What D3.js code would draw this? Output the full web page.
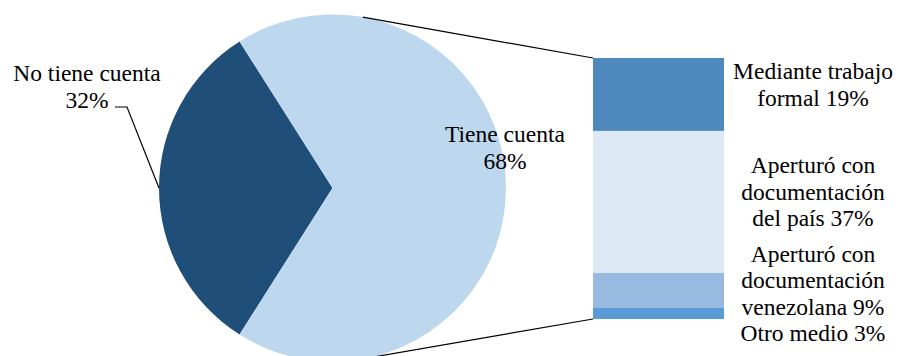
<!DOCTYPE html>
<html>
<head>
<meta charset="utf-8">
<script src="https://cdn.jsdelivr.net/npm/d3@7"></script>
<style>
body { margin: 0; background: #fff; }
</style>
</head>
<body>
<div id="chart"></div>
<script>
// pie: account / no account
var pieLabels = ["No tiene cuenta", "Tiene cuenta"];
var pieValues = [32, 68];
var pieColors = ["#1F4E79", "#BDD7EE"];

// bar: how the account was opened (share of total)
var barLabels = [
	["Mediante trabajo", "formal"],
	["Aperturó con", "documentación", "del país"],
	["Aperturó con", "documentación", "venezolana"],
	["Otro medio"]
];
var barValues = [19, 37, 9, 3];
var barColors = ["#4E88BD", "#DDEAF6", "#98BAE0", "#5B9BD5"];

var width = 901, height = 356;
var cx = 332.5, cy = 188, radius = 173.5;
var barX = 593, barW = 131;
var lineH = 26.5;

var svg = d3.select("#chart").append("svg")
	.attr("width", width)
	.attr("height", height)
	.attr("font-family", "'Liberation Serif', 'Times New Roman', 'DejaVu Serif', serif")
	.attr("font-size", 23.5);

// dark slice is centered on the left (270 deg)
var startAngle = 1.5 * Math.PI - (pieValues[0] / d3.sum(pieValues)) * Math.PI;
var pie = d3.pie().sort(null).value(function (d) { return d; })
	.startAngle(startAngle).endAngle(startAngle + 2 * Math.PI);
var arc = d3.arc().innerRadius(0).outerRadius(radius);
var arcs = pie(pieValues);

var pieG = svg.append("g").attr("transform", "translate(" + cx + "," + cy + ")");
pieG.selectAll("path")
	.data(arcs)
	.enter()
	.append("path")
	.attr("d", arc)
	.style("fill", function (d, i) { return pieColors[i]; });

// bar
var y = d3.scaleLinear().domain([0, d3.sum(barValues)]).range([58, 319]);
var cum = 0;
var barData = barValues.map(function (v, i) {
	var d = { value: v, y0: cum, y1: cum + v, label: barLabels[i], color: barColors[i] };
	cum += v;
	return d;
});

svg.selectAll("rect.seg")
	.data(barData)
	.enter()
	.append("rect")
	.attr("class", "seg")
	.attr("x", barX)
	.attr("width", barW)
	.attr("y", function (d) { return y(d.y0); })
	.attr("height", function (d) { return y(d.y1) - y(d.y0); })
	.style("fill", function (d) { return d.color; });

// tangent lines from bar corners to the pie
function tangentPoint(px, py, side)
{
	var dx = px - cx, dy = py - cy;
	var d = Math.sqrt(dx * dx + dy * dy);
	var base = Math.atan2(dy, dx);
	var off = Math.acos(radius / d);
	var a = base + side * off;
	return [cx + radius * Math.cos(a), cy + radius * Math.sin(a)];
}
var topCorner = [barX, y(0)];
var botCorner = [barX, y(d3.sum(barValues))];
var tTop = tangentPoint(topCorner[0], topCorner[1], -1);
var tBot = tangentPoint(botCorner[0], botCorner[1], 1);
[[tTop, topCorner], [tBot, botCorner]].forEach(function (l) {
	svg.append("line")
		.attr("x1", l[0][0]).attr("y1", l[0][1])
		.attr("x2", l[1][0]).attr("y2", l[1][1])
		.style("stroke", "#000").style("stroke-width", 1.2);
});

// pie labels
var darkMid = (arcs[0].startAngle + arcs[0].endAngle) / 2;
var edge = [cx + radius * Math.sin(darkMid), cy - radius * Math.cos(darkMid)];
svg.append("polyline")
	.attr("points", [[115, 107], [127, 107], edge].map(function (p) { return p.join(","); }).join(" "))
	.style("fill", "none").style("stroke", "#000").style("stroke-width", 1.2);

var noText = svg.append("text").attr("text-anchor", "middle");
noText.append("tspan").attr("x", 87).attr("y", 81).text(pieLabels[0]);
noText.append("tspan").attr("x", 87).attr("y", 108).text(pieValues[0] + "%");

var yesText = svg.append("text").attr("text-anchor", "middle");
yesText.append("tspan").attr("x", 505).attr("y", 142).text(pieLabels[1]);
yesText.append("tspan").attr("x", 505).attr("y", 169).text(pieValues[1] + "%");

// bar labels, centered on segment, pushed down if they overlap
var prevLast = -Infinity;
barData.forEach(function (d) {
	var lines = d.label.slice();
	lines[lines.length - 1] += " " + d.value + "%";
	var mid = (y(d.y0) + y(d.y1)) / 2;
	var first = mid - (lines.length - 1) / 2 * lineH - 2;
	if (first < prevLast + lineH) first = prevLast + lineH;
	var t = svg.append("text").attr("text-anchor", "middle");
	lines.forEach(function (s, i) {
		t.append("tspan").attr("x", 813).attr("y", first + i * lineH).text(s);
	});
	prevLast = first + (lines.length - 1) * lineH;
});
</script>
</body>
</html>
